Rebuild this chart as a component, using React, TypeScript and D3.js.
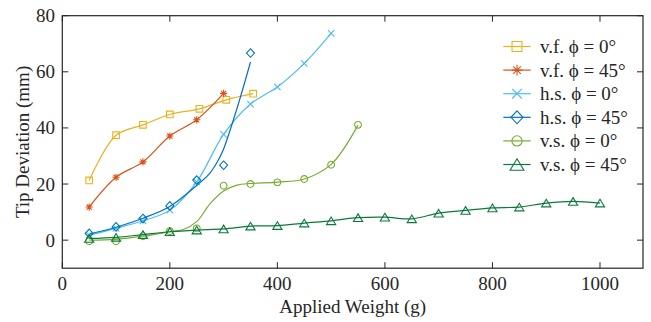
import React from "react";
import * as d3 from "d3";

// ---- data ----
const vfX0 = [50, 100, 150, 200, 255, 305, 355];
const vfY0 = [21.3, 37.4, 41.1, 44.8, 46.8, 50.0, 52.2];

const vfX45 = [50, 100, 150, 200, 250, 300];
const vfY45 = [11.8, 22.4, 27.9, 37.1, 42.9, 52.3];

const hsX0 = [50, 100, 150, 200, 250, 300, 350, 400, 450, 500];
const hsY0 = [1.8, 4.2, 6.9, 10.7, 20.8, 37.7, 48.5, 54.6, 63.0, 73.7];

const hsX45 = [50, 100, 150, 200, 250, 300, 350];
const hsY45 = [2.4, 4.7, 7.7, 12.2, 21.4, 26.7, 66.7];
// fitted curve for h.s. 45
const hsFitX45 = [50, 100, 150, 200, 250, 275, 290, 300, 325, 350];
const hsFitY45 = [2.2, 4.6, 7.8, 12.0, 19.5, 24.0, 28.5, 32.5, 47.0, 63.5];

const vsX0 = [50, 100, 150, 200, 250, 300, 350, 400, 450, 500, 550];
const vsY0 = [-0.4, -0.4, 1.4, 3.2, 4.2, 19.4, 20.0, 20.6, 21.8, 26.9, 41.1];
// fitted curve for v.s. 0
const vsFitX0 = [50, 100, 150, 200, 225, 250, 275, 300, 325, 350, 400, 450, 500, 550];
const vsFitY0 = [0.0, 0.3, 1.4, 3.0, 3.8, 6.6, 13.0, 17.5, 19.6, 20.2, 20.7, 21.8, 27.0, 41.0];

const vsX45 = [50, 100, 150, 200, 250, 300, 350, 400, 450, 500, 550, 600, 650, 700, 750, 800, 850, 900, 950, 1000];
const vsY45 = [0.6, 1.0, 2.0, 3.0, 3.6, 4.0, 5.0, 5.2, 6.1, 6.9, 8.0, 8.2, 7.6, 9.6, 10.6, 11.5, 11.8, 13.2, 13.8, 13.2];

const xTicks = [0, 200, 400, 600, 800, 1000];
const yTicks = [0, 20, 40, 60, 80];

const labels = ["v.f. ϕ = 0°", "v.f. ϕ = 45°", "h.s. ϕ = 0°", "h.s. ϕ = 45°", "v.s. ϕ = 0°", "v.s. ϕ = 45°"];
const colors = ["#EDB120", "#D95319", "#4DBEEE", "#0072BD", "#77AC30", "#0A7A3C"];
const markers = ["square", "asterisk", "cross", "diamond", "circle", "triangle"];

type S = { xs: number[]; ys: number[]; fx: number[]; fy: number[] };
const series: S[] = [
  { xs: vfX0, ys: vfY0, fx: vfX0, fy: vfY0 },
  { xs: vfX45, ys: vfY45, fx: vfX45, fy: vfY45 },
  { xs: hsX0, ys: hsY0, fx: hsX0, fy: hsY0 },
  { xs: hsX45, ys: hsY45, fx: hsFitX45, fy: hsFitY45 },
  { xs: vsX0, ys: vsY0, fx: vsFitX0, fy: vsFitY0 },
  { xs: vsX45, ys: vsY45, fx: vsX45, fy: vsY45 },
];

const W = 651, H = 322;
const L = 62.3, R = 643, T = 15.7, B = 268.2;
const FONT = "'Liberation Serif', 'Times New Roman', serif";
const AX = "#262626";

function markerPath(kind: string, s: number): string {
  switch (kind) {
    case "square": {
      const h = 3.3 * s;
      return `M${-h},${-h}H${h}V${h}H${-h}Z`;
    }
    case "asterisk": {
      const r = 3.6 * s, d = r * 0.707;
      return `M${-r},0H${r}M0,${-r}V${r}M${-d},${-d}L${d},${d}M${-d},${d}L${d},${-d}`;
    }
    case "cross": {
      const r = 3.2 * s;
      return `M${-r},${-r}L${r},${r}M${-r},${r}L${r},${-r}`;
    }
    case "diamond": {
      const w = 4 * s, h = 4.3 * s;
      return `M0,${-h}L${w},0L0,${h}L${-w},0Z`;
    }
    case "circle": {
      const r = 3.4 * s;
      return `M${r},0A${r},${r} 0 1 1 ${-r},0A${r},${r} 0 1 1 ${r},0Z`;
    }
    case "triangle": {
      const w = 4.6 * s, h = 3.8 * s;
      return `M0,${-h}L${w},${h}L${-w},${h}Z`;
    }
  }
  return "";
}

export default function App() {
  const x = d3.scaleLinear().domain([0, 1080]).range([L, R]);
  const y = d3.scaleLinear().domain([-10, 80]).range([B, T]);
  const line = d3
    .line<[number, number]>()
    .x((d) => x(d[0]))
    .y((d) => y(d[1]))
    .curve(d3.curveCatmullRom.alpha(0.5));

  const legX = 503.3, legX2 = 530.7, legText = 540, legY0 = 46.5, legDy = 23.6;

  return (
    <svg width={W} height={H} style={{ position: "absolute", left: 0, top: 0, background: "#fff" }} fontFamily={FONT}>
      <rect x={0} y={0} width={W} height={H} fill="#fff" />
      {/* series */}
      {series.map((s, i) => (
        <g key={i}>
          <path
            d={line(s.fx.map((v, j) => [v, s.fy[j]] as [number, number])) || ""}
            fill="none"
            stroke={colors[i]}
            strokeWidth={1.2}
          />
          {s.xs.map((v, j) => (
            <path
              key={j}
              d={markerPath(markers[i], 1)}
              transform={`translate(${x(v)},${y(s.ys[j])})`}
              fill="none"
              stroke={colors[i]}
              strokeWidth={1.1}
            />
          ))}
        </g>
      ))}
      {/* axes box */}
      <rect x={L} y={T} width={R - L} height={B - T} fill="none" stroke={AX} strokeWidth={1.2} />
      {xTicks.map((t) => (
        <g key={"x" + t}>
          <line x1={x(t)} x2={x(t)} y1={B} y2={B - 6} stroke={AX} strokeWidth={1} />
          <line x1={x(t)} x2={x(t)} y1={T} y2={T + 6} stroke={AX} strokeWidth={1} />
          <text x={x(t)} y={290} textAnchor="middle" fontSize={19} fill={AX}>
            {t}
          </text>
        </g>
      ))}
      {yTicks.map((t) => (
        <g key={"y" + t}>
          <line x1={L} x2={L + 6} y1={y(t)} y2={y(t)} stroke={AX} strokeWidth={1} />
          <line x1={R} x2={R - 6} y1={y(t)} y2={y(t)} stroke={AX} strokeWidth={1} />
          <text x={55} y={y(t) + 6.5} textAnchor="end" fontSize={19} fill={AX}>
            {t}
          </text>
        </g>
      ))}
      <text x={(L + R) / 2} y={313} textAnchor="middle" fontSize={19} fill={AX}>
        Applied Weight (g)
      </text>
      <text
        transform={`translate(29,${(T + B) / 2}) rotate(-90)`}
        textAnchor="middle"
        fontSize={19}
        fill={AX}
      >
        Tip Deviation (mm)
      </text>
      {/* legend */}
      {labels.map((lab, i) => {
        const ly = legY0 + i * legDy;
        return (
          <g key={"l" + i}>
            <line x1={legX} x2={legX2} y1={ly} y2={ly} stroke={colors[i]} strokeWidth={1.2} />
            <path
              d={markerPath(markers[i], 1.5)}
              transform={`translate(${(legX + legX2) / 2},${ly})`}
              fill="none"
              stroke={colors[i]}
              strokeWidth={1.1}
            />
            <text x={legText} y={ly + 6.5} fontSize={19} fill={AX}>
              {lab}
            </text>
          </g>
        );
      })}
    </svg>
  );
}
